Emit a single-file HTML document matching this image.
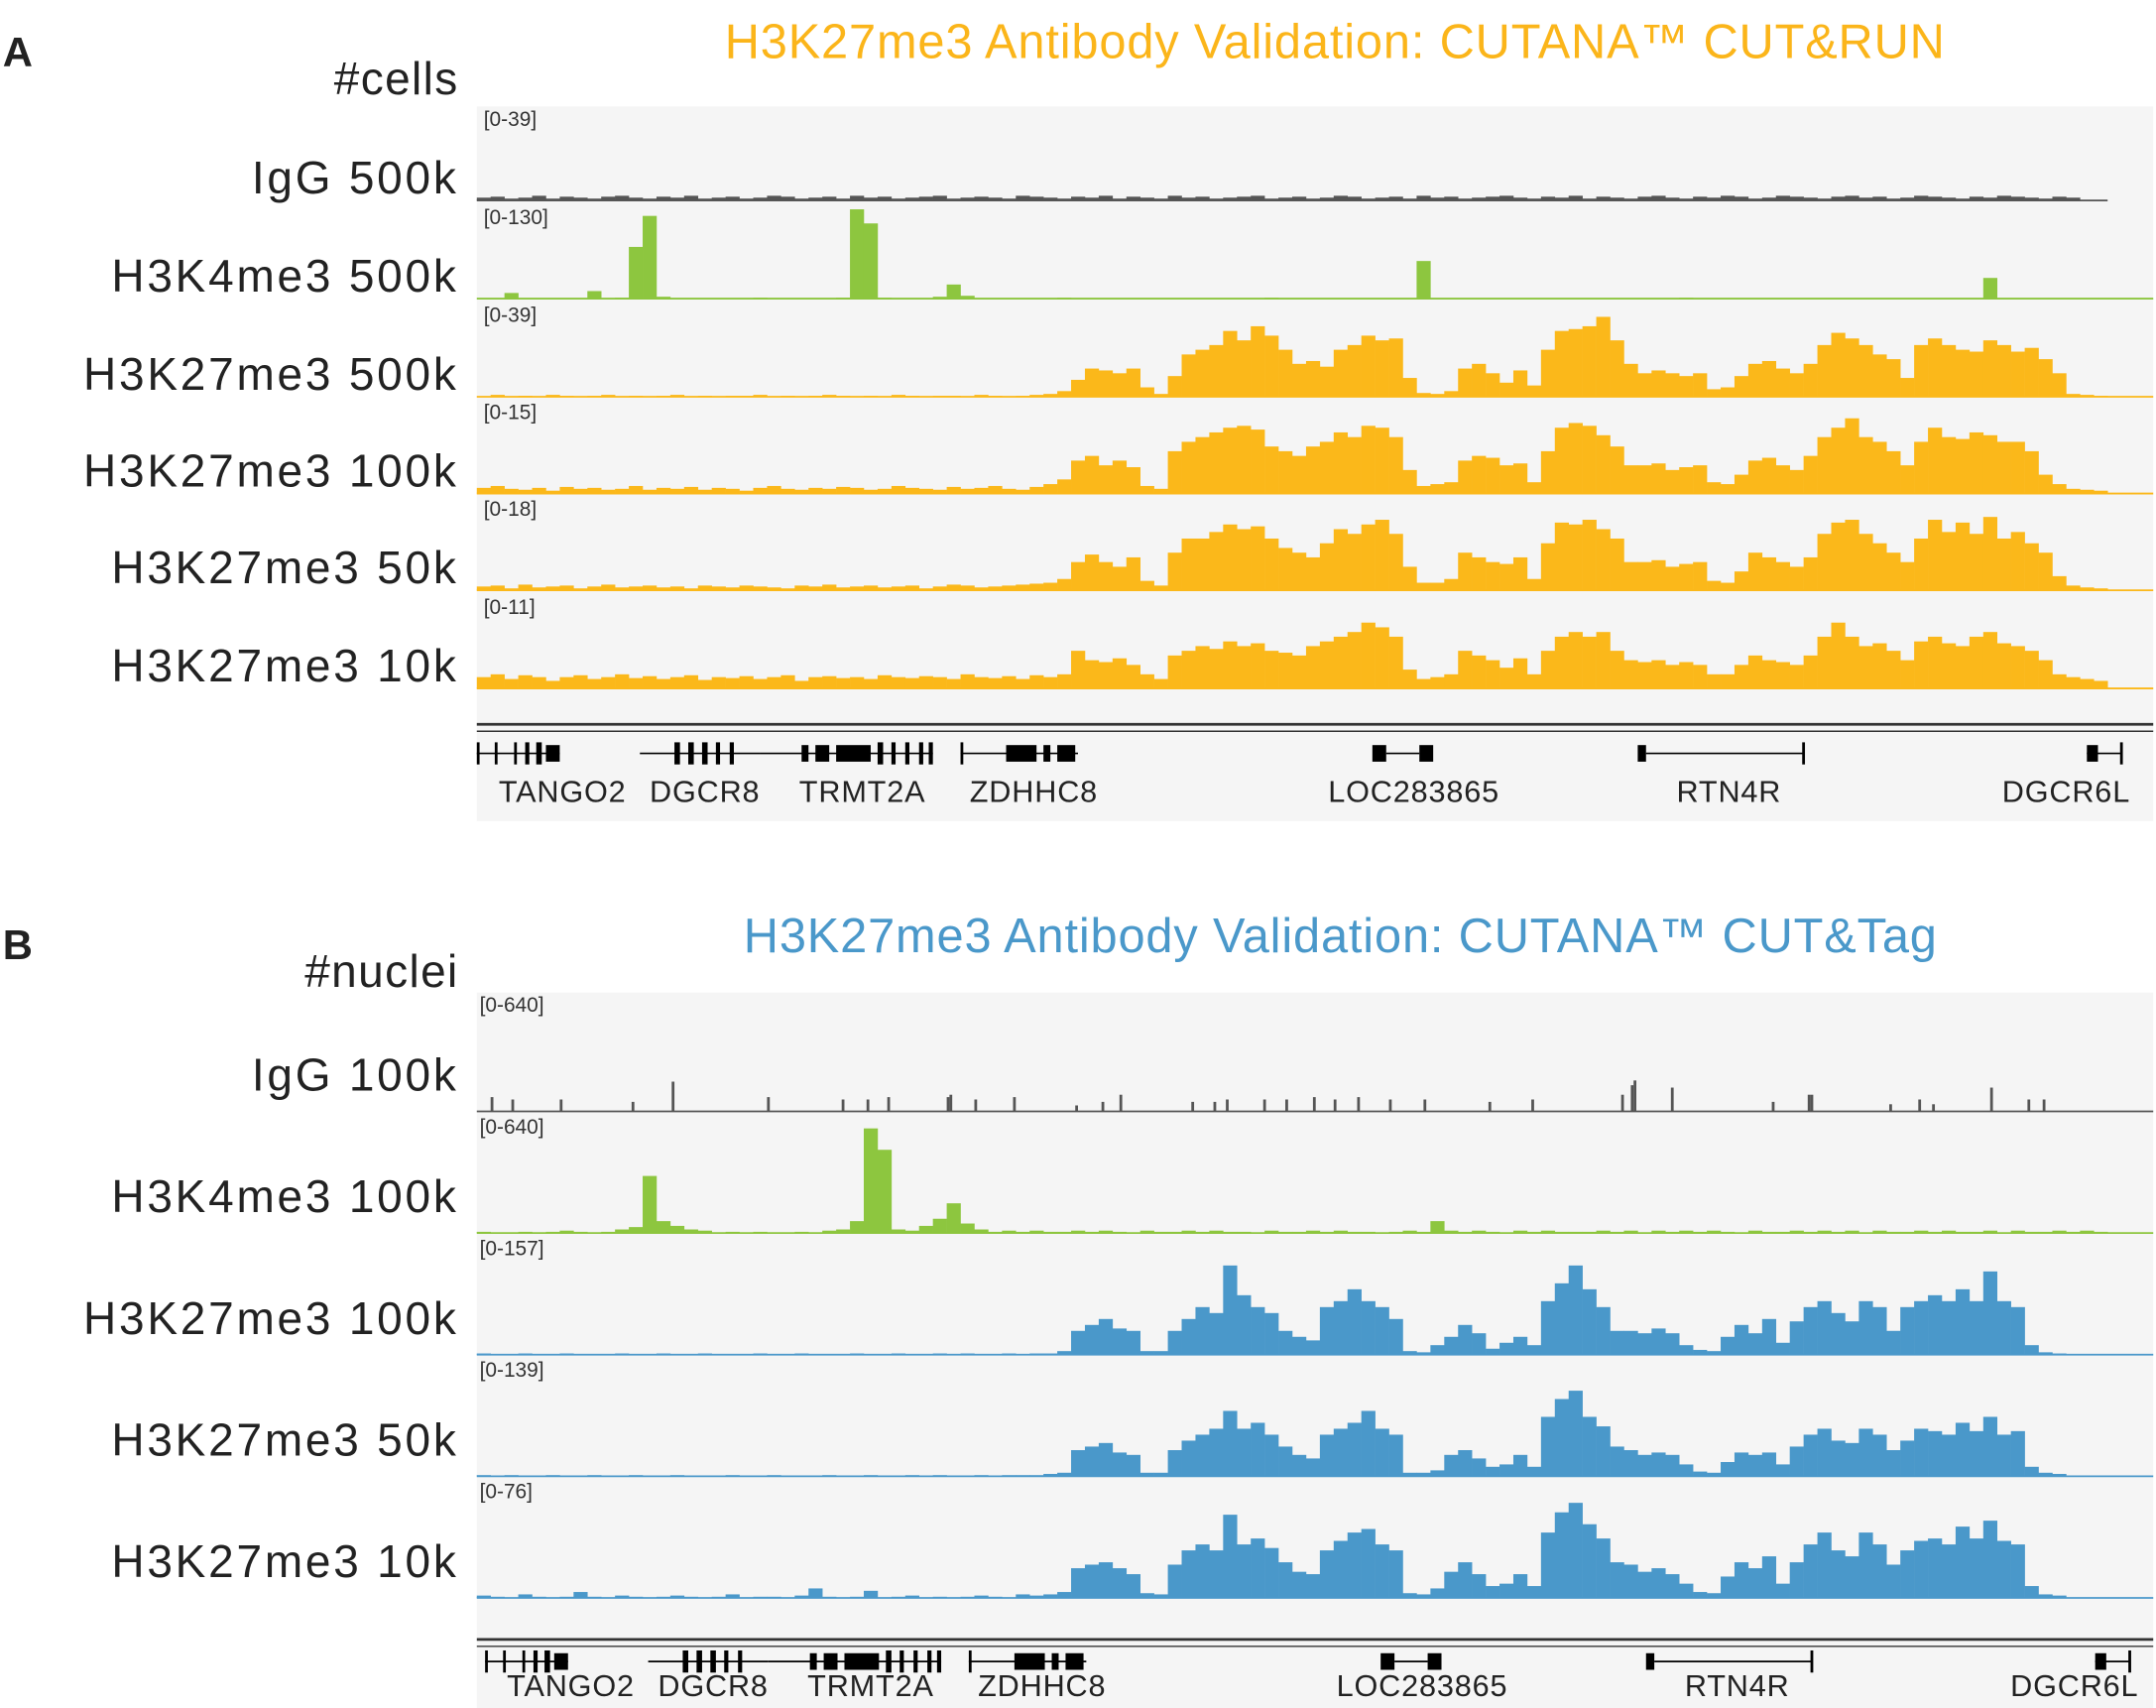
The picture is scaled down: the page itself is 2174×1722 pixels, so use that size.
<!DOCTYPE html>
<html><head><meta charset="utf-8"><style>
html,body{margin:0;padding:0;background:#fff;}
svg{display:block;font-family:"Liberation Sans",sans-serif;}
</style></head><body>
<svg id="fig" width="2174" height="1722" viewBox="0 0 1560 1235.6" xmlns="http://www.w3.org/2000/svg">
<rect x="0" y="0" width="1560" height="1236" fill="#fff"/>
<text x="2" y="48" font-size="30" font-weight="bold" fill="#222">A</text>
<text x="966" y="42" font-size="35" letter-spacing="0.6" fill="#FBB51A" text-anchor="middle">H3K27me3 Antibody Validation: CUTANA™ CUT&amp;RUN</text>
<text x="332" y="68" font-size="33" letter-spacing="1" fill="#222" text-anchor="end">#cells</text>
<rect x="345" y="77" width="1213" height="517" fill="#f5f5f5"/>
<text x="2" y="694" font-size="30" font-weight="bold" fill="#222">B</text>
<text x="970" y="689" font-size="35" letter-spacing="0.6" fill="#4A98CA" text-anchor="middle">H3K27me3 Antibody Validation: CUTANA™ CUT&amp;Tag</text>
<text x="332" y="714" font-size="33" letter-spacing="1" fill="#222" text-anchor="end">#nuclei</text>
<rect x="345" y="718" width="1213" height="518" fill="#f5f5f5"/>
<g id="tracks"></g>
<g id="genesA"></g>
<g id="genesB"></g>
</svg>
<script>
// ---- data (values in % of track range), 118 genomic bins ----
const A_igg = [3,4,2,3,5,2,4,3,2,4,5,3,2,4,3,5,2,3,4,2,3,5,4,2,3,4,2,5,3,4,2,3,4,5,2,3,4,3,2,5,4,3,2,4,3,5,2,4,3,2,5,3,4,2,3,4,5,2,3,4,2,3,5,4,2,3,4,2,5,3,4,2,3,4,5,3,2,4,3,5,2,4,3,2,4,5,3,2,4,3,5,4,2,3,5,4,3,2,4,5,3,4,2,3,5,4,3,2,4,3,5,4,3,2,4,3,0,0];
const A_k4 = [0,0,6,0,0,0,0,0,8,0,1,55,88,2,0,0,0,0,0,0,1,0,0,0,0,0,1,95,80,1,0,0,0,2,15,3,0,0,0,0,0,0,1,0,0,0,0,0,0,0,0,0,0,0,0,0,0,1,0,0,0,0,0,0,0,0,0,0,40,0,0,0,0,0,0,0,0,0,0,0,0,0,0,0,0,0,0,1,0,0,0,0,0,0,0,0,0,0,0,0,0,0,0,0,0,0,0,0,0,22,0,0,0,0,0,0,0,0];
const A_k27_500k = [0,2,0,1,0,2,1,0,1,2,0,1,0,1,2,0,1,0,1,1,2,0,1,0,1,2,1,0,1,0,2,1,0,1,1,0,2,1,0,1,2,3,6,18,30,28,25,30,10,3,22,45,50,55,70,60,75,65,50,35,38,32,50,55,65,60,62,20,4,3,6,30,35,25,15,28,12,50,70,72,75,85,60,35,25,28,25,22,25,8,10,22,35,38,30,25,35,55,68,62,55,45,40,20,55,62,55,50,48,60,55,48,52,40,25,3,2,1];
const A_k27_100k = [6,8,5,4,6,3,7,5,6,4,5,8,4,6,5,7,4,6,5,3,6,8,5,4,6,5,7,6,4,5,8,6,5,4,7,5,6,8,5,4,7,10,15,35,40,30,35,28,8,5,45,55,60,65,70,72,68,50,45,40,50,55,65,60,72,70,60,25,8,10,12,35,40,38,30,32,12,45,70,75,72,62,50,30,30,32,25,28,30,12,10,20,35,38,30,25,40,60,70,80,60,55,45,30,55,70,60,58,65,62,55,55,45,20,10,5,4,3];
const A_k27_50k = [4,5,2,6,3,4,5,2,4,6,3,4,5,3,4,2,5,4,3,5,4,3,2,5,4,6,3,4,5,3,4,5,2,4,6,5,3,4,5,6,7,8,12,30,38,30,25,35,10,5,40,55,55,62,70,65,68,55,45,40,35,50,65,60,70,75,60,25,8,8,12,40,35,30,28,35,12,50,72,70,75,65,55,30,30,32,25,28,30,10,8,20,40,35,30,25,35,60,72,75,60,50,40,30,55,75,62,72,60,78,55,62,50,40,15,5,3,2];
const A_k27_10k = [12,15,10,14,12,8,12,14,10,12,15,11,13,10,12,14,9,12,11,13,10,12,14,8,12,13,11,12,10,14,12,11,13,12,10,15,12,11,13,10,14,12,15,40,30,28,32,25,15,10,35,40,45,42,50,45,48,40,38,35,45,50,55,60,70,65,55,20,10,12,15,40,35,30,22,32,15,40,55,60,55,60,40,30,28,30,25,28,25,15,15,25,35,30,28,25,35,55,70,55,45,48,40,30,50,55,48,45,55,60,48,45,40,30,15,12,10,8];
const B_igg_pos = [10,25,60,112,141,210,264,282,297,340,342,360,388,433,452,465,517,533,542,569,585,605,620,637,660,685,732,763,828,835,837,864,937,963,965,1022,1043,1053,1095,1122,1133];
const B_igg_val = [12,10,10,8,25,12,10,10,12,12,14,10,12,5,8,14,8,8,10,10,10,12,10,12,10,10,8,10,14,22,26,20,8,14,14,6,10,6,20,10,10];
const B_k4 = [1,0,0,1,0,1,2,1,0,1,3,5,48,10,6,3,2,0,1,0,1,0,0,1,0,2,3,10,88,70,3,2,6,12,25,8,3,1,2,1,2,1,1,2,1,2,1,0,2,1,1,2,1,2,1,1,0,2,1,1,2,1,2,1,1,0,1,2,1,10,2,1,2,1,0,2,1,2,1,1,1,2,1,2,0,2,1,2,1,2,1,0,2,1,1,2,1,2,1,2,0,2,1,1,2,1,2,1,1,2,0,2,1,1,2,1,2,1];
const B_k27_100k = [1,0,0,1,0,0,1,0,0,0,1,0,0,1,0,0,1,0,0,0,1,0,0,1,0,0,0,1,0,0,1,0,0,1,0,1,0,0,1,0,1,1,3,20,25,30,22,20,3,3,20,30,40,35,75,50,40,35,20,15,12,40,45,55,45,40,30,3,2,8,15,25,18,5,10,15,8,45,60,75,55,40,20,20,18,22,18,8,4,3,15,25,18,30,10,28,40,45,35,28,45,40,20,40,45,50,45,55,45,70,45,40,8,2,1,0,0,0];
const B_k27_50k = [1,0,1,0,0,1,0,0,1,0,0,1,0,0,1,0,0,0,1,0,0,1,0,0,0,1,0,0,1,0,0,1,0,1,0,0,1,0,1,1,1,2,3,22,25,28,20,18,3,3,22,30,35,40,55,40,45,35,25,18,15,35,40,45,55,40,35,3,3,5,18,22,15,8,10,18,8,50,65,72,50,42,25,22,18,20,18,10,4,3,12,20,18,20,10,25,35,40,30,28,40,35,22,30,40,38,35,45,38,50,35,38,8,3,2,0,0,0];
const B_k27_10k = [2,1,0,3,1,0,1,5,1,0,2,1,0,1,2,1,0,1,3,0,1,1,0,2,8,1,0,1,6,0,1,2,0,1,0,1,2,1,0,3,2,3,5,25,28,30,25,20,4,3,28,40,45,40,70,45,50,42,30,22,20,40,48,55,58,45,40,4,3,8,22,30,20,10,12,20,10,55,72,80,62,50,30,28,22,25,20,12,5,4,18,30,25,35,12,30,45,55,40,35,55,45,28,40,48,50,45,60,50,65,48,45,10,3,2,0,0,0];
const rangeLabels = ["[0-39]","[0-130]","[0-39]","[0-15]","[0-18]","[0-11]","[0-640]","[0-640]","[0-157]","[0-139]","[0-76]"];
const rowLabels = ["IgG 500k","H3K4me3 500k","H3K27me3 500k","H3K27me3 100k","H3K27me3 50k","H3K27me3 10k","IgG 100k","H3K4me3 100k","H3K27me3 100k","H3K27me3 50k","H3K27me3 10k"];

// ---- layout ----
const X0 = 345, X1 = 1525, NB = 118, FULL = 1558;
function xScale(i){ return X0 + i*(X1-X0)/NB; }
const BW = (X1-X0)/NB;
const NS = "http://www.w3.org/2000/svg";
const g = document.getElementById('tracks');
function mk(tag, attrs){ const e=document.createElementNS(NS,tag); for(const k in attrs) e.setAttribute(k,attrs[k]); return e; }

const tracks = [
 {d:A_igg, base:145, h:68, c:"#555"},
 {d:A_k4, base:216, h:68, c:"#8DC63F"},
 {d:A_k27_500k, base:287, h:68, c:"#FBB81A"},
 {d:A_k27_100k, base:357, h:68, c:"#FBB81A"},
 {d:A_k27_50k, base:427, h:68, c:"#FBB81A"},
 {d:A_k27_10k, base:498, h:68, c:"#FBB81A"},
 {spike:true, base:804, h:86, c:"#555"},
 {d:B_k4, base:892, h:86, c:"#8DC63F"},
 {d:B_k27_100k, base:980, h:86, c:"#4A98CA"},
 {d:B_k27_50k, base:1068, h:86, c:"#4A98CA"},
 {d:B_k27_10k, base:1156, h:86, c:"#4A98CA"}
];
tracks.forEach((t,ti)=>{
  const tg = mk('g',{});
  
  
  const top = t.base - t.h;
  const rl = mk('text',{x: ti>=6?347:350, y: top+14, 'font-size': 15, fill:'#333'});
  rl.textContent = rangeLabels[ti];
  
  
  tg.appendChild(rl);
  const lab = mk('text',{x:332, y: ti>=6 ? t.base-15 : t.base-5, 'font-size':33, 'letter-spacing':2, fill:'#222', 'text-anchor':'end'});
  lab.textContent = rowLabels[ti];
  
  
  tg.appendChild(lab);
  if(t.spike){
    B_igg_pos.forEach((p,k)=>{
      const hh = B_igg_val[k]/100*t.h;
      const r = mk('rect',{x: xScale(p/10), y: t.base-hh, width: 2, height: hh, fill:t.c});
      
      
      tg.appendChild(r);
    });
  } else {
    t.d.forEach((v,i)=>{
      if(v<=0) return;
      const hh = v/100*t.h;
      const r = mk('rect',{x: xScale(i), y: t.base-hh, width: BW+0.2, height: hh, fill:t.c});
      
      
      tg.appendChild(r);
    });
  }
  const bl = mk('line',{x1:X0, x2: ti==0?X1:FULL, y1:t.base, y2:t.base, stroke:t.c, 'stroke-width':1.3});
  
  
  tg.appendChild(bl);
  g.appendChild(tg);
});

// ---- gene tracks ----
const geneNames = ["TANGO2","DGCR8","TRMT2A","ZDHHC8","LOC283865","RTN4R","DGCR6L"];
const geneCenters = [407,510,624,748,1023,1251,1495];
const lines = [[345,405],[463,550],[550,675],[695,780],[1003,1027],[1191,1305],[1510,1535]];
const exons = [[345,2],[358,2],[372,2],[380,3],[388,4],[395,10],[488,4],[498,4],[508,4],[518,3],[528,3],[580,5],[590,10],[605,25],[635,4],[645,3],[655,3],[665,3],[672,3],[695,2],[728,22],[755,5],[765,13],[993,10],[1027,10],[1185,6],[1304,2],[1510,8],[1534,2]];
function genes(gid, yRule, yGene, yText, dx){
  const G = document.getElementById(gid);
  G.appendChild(mk('line',{x1:345,x2:FULL,y1:yRule,y2:yRule,stroke:'#333','stroke-width':2}));
  G.appendChild(mk('line',{x1:345,x2:FULL,y1:yRule+5,y2:yRule+5,stroke:'#333','stroke-width':1}));
  lines.forEach(l=>G.appendChild(mk('line',{x1:l[0]+dx,x2:l[1]+dx,y1:yGene,y2:yGene,stroke:'#000','stroke-width':1.2})));
  exons.forEach(e=>G.appendChild(mk('rect',{x:e[0]+dx,y:yGene-(e[1]>4?6:8),width:e[1],height:e[1]>4?12:16,fill:'#000'})));
  geneNames.forEach((n,i)=>{
    const t = mk('text',{x:geneCenters[i]+dx, y:yText, 'font-size':22, 'letter-spacing':0.6, fill:'#222','text-anchor':'middle'});
    t.textContent = n;
    
    
    G.appendChild(t);
  });
}
genes('genesA', 524, 545, 580, 0);
genes('genesB', 1186, 1202, 1227, 6);
</script>
</body></html>
